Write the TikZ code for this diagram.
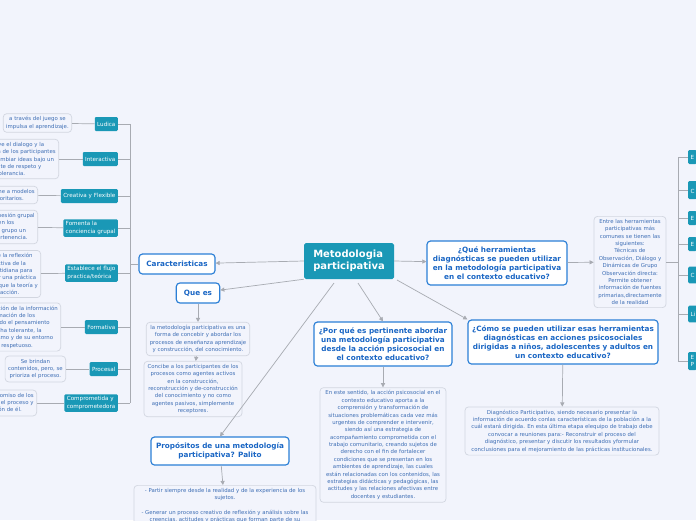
\documentclass[tikz,border=0pt]{standalone}
\usepackage{fontspec}
\setmainfont{DejaVu Sans}
\usetikzlibrary{arrows.meta,positioning}
\definecolor{bgc}{HTML}{F2F4FC}
\definecolor{tealc}{HTML}{1A98B6}
\definecolor{bluec}{HTML}{2B7FD6}
\definecolor{textc}{HTML}{1A66C4}
\definecolor{leafc}{HTML}{3F6FB5}
\definecolor{leafb}{HTML}{D2D6E0}
\definecolor{linec}{HTML}{A8ABB2}

\begin{document}
\begin{tikzpicture}[
    x=0.03cm, y=-0.03cm,
    >={Triangle[length=3.5pt,width=3.5pt]},
    % estilos del mapa
    central/.style={fill=tealc, text=white, font=\bfseries\fontsize{8.5}{10}\selectfont, align=left, minimum width=2.7cm, minimum height=1.08cm, rounded corners=1.5pt, inner sep=2pt},
    topic/.style={draw=bluec, line width=1pt, fill=white, text=textc, font=\bfseries\fontsize{6.2}{7.6}\selectfont, align=center, rounded corners=3pt, inner sep=3pt},
    leaf/.style={draw=leafb, line width=0.6pt, fill=bgc, text=leafc, font=\fontsize{4.6}{6.3}\selectfont, align=center, rounded corners=3pt, inner sep=2.5pt},
    tag/.style={fill=tealc, text=white, font=\fontsize{4.8}{6.3}\selectfont, align=left, rounded corners=1pt, inner sep=2pt, minimum height=0.42cm},
    link/.style={draw=linec, line width=0.6pt},
]
    \useasboundingbox (0,0) rectangle (696,520);
    \clip (0,0) rectangle (696,520);
    \fill[bgc] (0,0) rectangle (696,520);

    % --- nodo central ---
    \node[central] (main) at (349,261) {Metodologia\\participativa};

    % --- temas ---
    \node[topic, minimum width=2.28cm, minimum height=0.6cm] (car) at (177,264) {Caracteristicas};
    \node[topic, minimum width=1.3cm, minimum height=0.6cm] (quees) at (198,293) {Que es};
    \node[topic, minimum width=4.14cm, minimum height=0.84cm] (prop) at (220,451) {Propósitos de una metodología\\participativa? Palito};
    \node[topic, minimum width=4.14cm, minimum height=1.32cm] (por) at (383,344) {¿Por qué es pertinente abordar\\una metodología participativa\\desde la acción psicosocial en\\el contexto educativo?};
    \node[topic, minimum width=4.2cm, minimum height=1.32cm] (herr) at (497,263) {¿Qué herramientas\\diagnósticas se pueden utilizar\\en la metodología participativa\\en el contexto educativo?};
    \node[topic, minimum width=5.7cm, minimum height=1.32cm] (como) at (563,342) {¿Cómo se pueden utilizar esas herramientas\\diagnósticas en acciones psicosociales\\dirigidas a niños, adolescentes y adultos en\\un contexto educativo?};

    % --- hojas ---
    \node[leaf, minimum width=3.1cm] (qe1) at (198,339) {la metodología participativa es una\\forma de concebir y abordar los\\procesos de enseñanza aprendizaje\\y construcción, del conocimiento.};
    \node[leaf, minimum width=2.94cm] (qe2) at (193,389) {Concibe a los participantes de los\\procesos como agentes activos\\en la construcción,\\reconstrucción y de-construcción\\del conocimiento y no como\\agentes pasivos, simplemente\\receptores.};
    \node[leaf, minimum width=5.46cm, anchor=north] (propl) at (225,485) {- Partir siempre desde la realidad y de la experiencia de los\\sujetos.\\[6.3pt]- Generar un proceso creativo de reflexión y análisis sobre las\\creencias, actitudes y prácticas que forman parte de su\\realidad};
    \node[leaf, minimum width=3.78cm, minimum height=3cm] (porl) at (383,445) {En este sentido, la acción psicosocial en el\\contexto educativo aporta a la\\comprensión y transformación de\\situaciones problemáticas cada vez más\\urgentes de comprender e intervenir,\\siendo así una estrategia de\\acompañamiento comprometida con el\\trabajo comunitario, creando sujetos de\\derecho con el fin de fortalecer\\condiciones que se presentan en los\\ambientes de aprendizaje, las cuales\\están relacionadas con los contenidos, las\\estrategias didácticas y pedagógicas, las\\actitudes y las relaciones afectivas entre\\docentes y estudiantes.};
    \node[leaf, minimum width=2.16cm, minimum height=2.52cm] (herrl) at (630,262) {Entre las herramientas\\participativas más\\comunes se tienen las\\siguientes:\\Técnicas de\\Observación, Diálogo y\\Dinámicas de Grupo\\Observación directa:\\Permite obtener\\información de fuentes\\primarias,directamente\\de la realidad};
    \node[leaf, minimum width=5.82cm, minimum height=1.32cm] (comol) at (562,431) {Diagnóstico Participativo, siendo necesario presentar la\\información de acuerdo conlas características de la población a la\\cuál estará dirigida. En esta última etapa elequipo de trabajo debe\\convocar a reuniones para:- Reconstruir el proceso del\\diagnóstico, presentar y discutir los resultados yformular\\conclusiones para el mejoramiento de las prácticas institucionales.};

    % --- características (izquierda) ---
    \node[tag, anchor=east] (t1) at (118,124) {Ludica};
    \node[tag, anchor=east] (t2) at (118,159) {Interactiva};
    \node[tag, anchor=east] (t3) at (118,196) {Creativa y Flexible};
    \node[tag, anchor=east] (t4) at (118,228) {Fomenta la\\conciencia grupal};
    \node[tag, anchor=east] (t5) at (118,273) {Establece el flujo\\practica/teórica};
    \node[tag, anchor=east] (t6) at (118,327) {Formativa};
    \node[tag, anchor=east] (t7) at (118,369) {Procesal};
    \node[tag, anchor=east] (t8) at (118,403) {Comprometida y\\comprometedora};

    \node[leaf, anchor=east] (l1) at (72,123) {a través del juego se\\impulsa el aprendizaje.};
    \node[leaf, anchor=east] (l2) at (59,159) {Promueve el dialogo y la\\participación de los participantes\\para intercambiar ideas bajo un\\ambiente de respeto y\\tolerancia.};
    \node[leaf, anchor=east] (l3) at (38,195) {Se opone a modelos\\autoritarios.};
    \node[leaf, anchor=east] (l4) at (38,227) {Promueve la cohesión grupal\\basado en los\\intereses del grupo un\\sentido de pertenencia.};
    \node[leaf, anchor=east] (l5) at (41,274) {Permite la reflexión\\colectiva de la\\vida cotidiana para\\construir una práctica\\que unifique la teoría y\\la acción.};
    \node[leaf, anchor=east] (l6) at (61,327) {Promueve la apropiación de la información\\y la transformación de los\\sujetos, estimulando el pensamiento\\crítico, la escucha tolerante, la\\valoración de sí mismo y de su entorno\\y un debate respetuoso.};
    \node[leaf, anchor=east] (l7) at (66,369) {Se brindan\\contenidos, pero, se\\prioriza el proceso.};
    \node[leaf, anchor=east] (l8) at (37,403) {Implica el compromiso de los\\participantes en el proceso y\\la apropiación de él.};

    \coordinate (barL) at (130,264);
    \draw[link] (130,124) -- (130,403);
    \draw[link] (car) -- (barL);
    \foreach \i in {1,...,8} {
        \draw[link] (l\i) -- (t\i);
        \draw[link] (t\i.east) -- (t\i.east -| barL);
    }

    % --- herramientas (derecha) ---
    \node[tag, anchor=west, minimum height=0.42cm] (r1) at (688,157) {E};
    \node[tag, anchor=west, minimum height=0.54cm] (r2) at (688,190) {\\C};
    \node[tag, anchor=west] (r3) at (688,218) {E};
    \node[tag, anchor=west] (r4) at (688,244) {E};
    \node[tag, anchor=west, minimum height=0.5cm] (r5) at (688,275) {C};
    \node[tag, anchor=west, minimum height=0.5cm] (r6) at (688,314) {Li};
    \node[tag, anchor=west, minimum height=0.54cm] (r7) at (688,361) {E\\P};
    \coordinate (barR) at (678,262);
    \draw[link] (678,157) -- (678,361);
    \draw[link] (herrl) -- (barR);
    \foreach \i in {1,...,7}
        \draw[link] (r\i.west) -- (r\i.west -| barR);

    % --- conectores ---
    \draw[link, ->] (main.west) -- (car);
    \draw[link, ->] (main.south west) -- (quees);
    \draw[link, ->] (334,283) -- (prop.north);
    \draw[link, ->] (358,283) -- (por.north);
    \draw[link, ->] (main.east) -- (herr);
    \draw[link, ->] (397,280) -- (como.north west);
    \draw[link, ->] (quees) -- (qe1);
    \draw[link, ->] (qe1) -- (qe2);
    \draw[link, ->] (prop) -- (propl);
    \draw[link, ->] (por) -- (porl);
    \draw[link, ->] (herr) -- (herrl);
    \draw[link, ->] (como) -- (comol);
\end{tikzpicture}
\end{document}
